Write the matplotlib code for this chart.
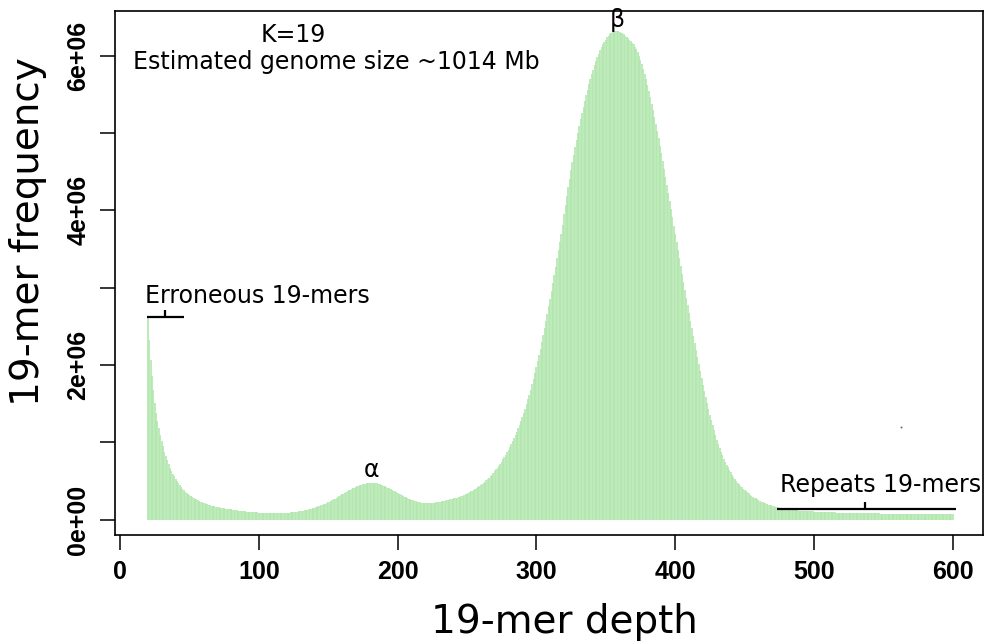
import numpy as np
import matplotlib
matplotlib.use('Agg')
import matplotlib.pyplot as plt

# k-mer frequency (millions) for each depth, starting at depth 20
freq_mil = [
    2.61, 2.32, 2.07, 1.86, 1.67, 1.51, 1.38, 1.27, 1.18, 1.10,
    1.02, 0.95, 0.88, 0.82, 0.77, 0.72, 0.67, 0.63, 0.59, 0.56,
    0.53, 0.50, 0.47, 0.445, 0.42, 0.40, 0.38, 0.36, 0.345, 0.33,
    0.315, 0.30, 0.29, 0.28, 0.27, 0.26, 0.25, 0.24, 0.232, 0.224,
    0.217, 0.21, 0.204, 0.198, 0.192, 0.186, 0.181, 0.176, 0.171, 0.167,
    0.163, 0.159, 0.155, 0.151, 0.148, 0.145, 0.142, 0.139, 0.136, 0.133,
    0.130, 0.127, 0.124, 0.121, 0.118, 0.116, 0.114, 0.112, 0.110, 0.108,
    0.106, 0.104, 0.102, 0.100, 0.098, 0.096, 0.095, 0.094, 0.093, 0.092,
    0.091, 0.090, 0.089, 0.088, 0.087, 0.086, 0.085, 0.085, 0.084, 0.084,
    0.084, 0.084, 0.084, 0.084, 0.085, 0.085, 0.086, 0.086, 0.087, 0.087,
    0.088, 0.089, 0.090, 0.092, 0.094, 0.096, 0.098, 0.100, 0.103, 0.106,
    0.109, 0.112, 0.116, 0.120, 0.124, 0.128, 0.132, 0.137, 0.142, 0.147,
    0.152, 0.158, 0.164, 0.170, 0.177, 0.184, 0.191, 0.199, 0.207, 0.215,
    0.224, 0.233, 0.242, 0.252, 0.262, 0.272, 0.283, 0.293, 0.304, 0.315,
    0.325, 0.336, 0.346, 0.356, 0.366, 0.376, 0.386, 0.395, 0.404, 0.412,
    0.420, 0.428, 0.435, 0.442, 0.448, 0.454, 0.459, 0.463, 0.467, 0.470,
    0.472, 0.473, 0.473, 0.472, 0.470, 0.467, 0.463, 0.458, 0.452, 0.446,
    0.439, 0.431, 0.423, 0.414, 0.405, 0.395, 0.385, 0.375, 0.365, 0.355,
    0.345, 0.335, 0.325, 0.315, 0.305, 0.296, 0.287, 0.278, 0.270, 0.262,
    0.255, 0.248, 0.242, 0.236, 0.231, 0.227, 0.223, 0.220, 0.218, 0.216,
    0.215, 0.214, 0.214, 0.214, 0.215, 0.216, 0.218, 0.220, 0.222, 0.225,
    0.228, 0.231, 0.235, 0.239, 0.243, 0.247, 0.252, 0.256, 0.260, 0.264,
    0.268, 0.273, 0.278, 0.283, 0.289, 0.296, 0.303, 0.310, 0.318, 0.326,
    0.335, 0.344, 0.353, 0.363, 0.373, 0.384, 0.395, 0.407, 0.419, 0.432,
    0.446, 0.460, 0.475, 0.491, 0.508, 0.525, 0.543, 0.562, 0.582, 0.603,
    0.625, 0.648, 0.672, 0.697, 0.723, 0.750, 0.778, 0.808, 0.839, 0.871,
    0.904, 0.939, 0.975, 1.013, 1.052, 1.093, 1.136, 1.181, 1.228, 1.277,
    1.328, 1.381, 1.436, 1.494, 1.554, 1.617, 1.682, 1.750, 1.820, 1.893,
    1.969, 2.047, 2.128, 2.211, 2.297, 2.385, 2.476, 2.569, 2.664, 2.761,
    2.860, 2.961, 3.063, 3.167, 3.272, 3.378, 3.485, 3.593, 3.701, 3.810,
    3.95, 4.07, 4.19, 4.30, 4.41, 4.52, 4.62, 4.72, 4.82, 4.91,
    5.00, 5.09, 5.18, 5.26, 5.34, 5.42, 5.49, 5.56, 5.63, 5.70,
    5.76, 5.82, 5.88, 5.93, 5.98, 6.03, 6.07, 6.11, 6.15, 6.18,
    6.21, 6.24, 6.26, 6.28, 6.30, 6.31, 6.32, 6.32, 6.32, 6.32,
    6.31, 6.30, 6.29, 6.28, 6.26, 6.25, 6.23, 6.21, 6.19, 6.17,
    6.15, 6.12, 6.085, 6.045, 6.00, 5.95, 5.895, 5.835, 5.77, 5.70,
    5.625, 5.547, 5.466, 5.382, 5.296, 5.208, 5.118, 5.026, 4.932, 4.836,
    4.738, 4.638, 4.536, 4.433, 4.329, 4.224, 4.119, 4.014, 3.909, 3.804,
    3.699, 3.594, 3.489, 3.384, 3.280, 3.176, 3.073, 2.971, 2.870, 2.770,
    2.671, 2.573, 2.476, 2.380, 2.285, 2.191, 2.098, 2.007, 1.918, 1.831,
    1.746, 1.663, 1.582, 1.503, 1.427, 1.354, 1.284, 1.217, 1.153, 1.092,
    1.034, 0.979, 0.927, 0.878, 0.832, 0.789, 0.749, 0.711, 0.675, 0.641,
    0.609, 0.579, 0.551, 0.525, 0.501, 0.479, 0.458, 0.438, 0.419, 0.401,
    0.384, 0.368, 0.353, 0.338, 0.324, 0.310, 0.297, 0.285, 0.273, 0.262,
    0.252, 0.242, 0.233, 0.224, 0.216, 0.208, 0.201, 0.194, 0.188, 0.182,
    0.176, 0.171, 0.166, 0.161, 0.157, 0.153, 0.149, 0.145, 0.142, 0.139,
    0.136, 0.133, 0.130, 0.128, 0.126, 0.124, 0.122, 0.120, 0.118, 0.116,
    0.115, 0.113, 0.112, 0.111, 0.110, 0.109, 0.108, 0.107, 0.106, 0.105,
    0.104, 0.103, 0.102, 0.101, 0.100, 0.099, 0.098, 0.097, 0.096, 0.095,
    0.094, 0.094, 0.093, 0.093, 0.092, 0.092, 0.091, 0.091, 0.090, 0.090,
    0.089, 0.089, 0.088, 0.088, 0.087, 0.087, 0.086, 0.086, 0.085, 0.085,
    0.085, 0.084, 0.084, 0.083, 0.083, 0.083, 0.082, 0.082, 0.082, 0.081,
    0.081, 0.081, 0.080, 0.080, 0.080, 0.079, 0.079, 0.079, 0.078, 0.078,
    0.078, 0.078, 0.077, 0.077, 0.077, 0.077, 0.076, 0.076, 0.076, 0.076,
    0.075, 0.075, 0.075, 0.075, 0.075, 0.074, 0.074, 0.074, 0.074, 0.074,
    0.073, 0.073, 0.073, 0.073, 0.073, 0.073, 0.072, 0.072, 0.072, 0.072,
    0.072, 0.072, 0.071, 0.071, 0.071, 0.071, 0.071, 0.071, 0.070, 0.070,
    0.070, 0.070, 0.070, 0.070, 0.070, 0.069, 0.069, 0.069, 0.069, 0.069,
    0.069,
]
first_depth = 20

x_ticks = [0, 100, 200, 300, 400, 500, 600]
y_ticks = [0, 1e6, 2e6, 3e6, 4e6, 5e6, 6e6]
y_tick_labels = ['0e+00', '', '2e+06', '', '4e+06', '', '6e+06']

kmer_text = 'K=19'
genome_text = 'Estimated genome size ~1014 Mb'

# bracket marks: (start, end, middle) depth and height of the bracket
err_bracket = (19.5, 46, 32.5, 2.62e6)
rep_bracket = (473.5, 602, 537, 0.135e6)
stray_point = (563, 1.2e6)


def bracket(ax, b, up):
    x0, x1, xm, yb = b
    ax.plot([x0, x1], [yb, yb], color='black', lw=1.6, solid_capstyle='butt')
    ax.plot([xm, xm], [yb, yb + up], color='black', lw=1.6, solid_capstyle='butt')


def main():
    depth = np.arange(first_depth, first_depth + len(freq_mil))
    freq = np.array(freq_mil) * 1e6

    fig = plt.figure(figsize=(9.84, 6.41), dpi=100)
    ax = fig.add_axes([115 / 984, 1 - 535 / 641, 868 / 984, 524 / 641])

    ax.vlines(depth, 0, freq, color='#b0e6ac', linewidth=1.15)

    ax.set_xlim(-3.6, 621.8)
    ax.set_ylim(-0.2e6, 6.58e6)

    tick_font = {'family': ['Liberation Sans Narrow', 'Liberation Sans', 'DejaVu Sans'],
                 'weight': 'bold', 'size': 18}
    ax.set_xticks(x_ticks)
    ax.set_xticklabels([str(t) for t in x_ticks], fontdict=tick_font)
    ax.set_yticks(y_ticks)
    ax.set_yticklabels(y_tick_labels, fontdict=tick_font, rotation=90, va='center')
    ax.tick_params(direction='out', length=10.8, width=1.1, pad=7)
    for s in ax.spines.values():
        s.set_linewidth(1.2)

    fig.text(564 / 984, 1 - 622 / 641, '19-mer depth', ha='center', va='center',
             fontsize=28, family='DejaVu Sans')
    fig.text(28 / 984, 1 - 232 / 641, '19-mer frequency', ha='center', va='center',
             fontsize=28, family='DejaVu Sans', rotation=90)

    ax.text(124.7, 6.27e6, kmer_text, ha='center', va='center', fontsize=17)
    ax.text(155.6, 5.92e6, genome_text, ha='center', va='center', fontsize=17)
    ax.text(358, 6.47e6, 'β', ha='center', va='center', fontsize=17)
    ax.text(181, 0.64e6, 'α', ha='center', va='center', fontsize=17)
    ax.text(18, 2.89e6, 'Erroneous 19-mers', ha='left', va='center', fontsize=17)
    ax.text(475.6, 0.447e6, 'Repeats 19-mers', ha='left', va='center', fontsize=17)

    bracket(ax, err_bracket, 0.09e6)
    bracket(ax, rep_bracket, 0.09e6)
    ax.plot([stray_point[0]], [stray_point[1]], marker='s', ms=1.2, color='0.35', mew=0)

    fig.savefig('out.png', dpi=100)


if __name__ == '__main__':
    main()
